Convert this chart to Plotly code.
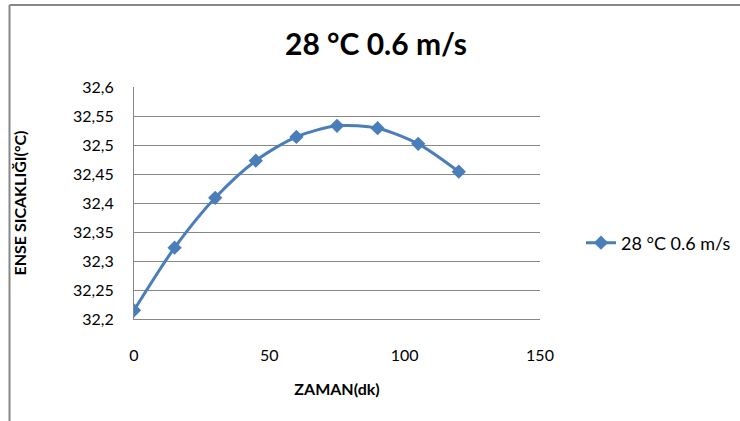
import plotly.graph_objects as go

# Data
zaman = [0, 15, 30, 45, 60, 75, 90, 105, 120]
sicaklik = [32.215, 32.323, 32.409, 32.473, 32.514, 32.533, 32.529, 32.502, 32.454]
series_name = "28 °C 0.6 m/s"
chart_title = "28 °C 0.6 m/s"
x_title = "ZAMAN(dk)"
y_title = "ENSE SICAKLIĞI(°C)"
x_ticks = [0, 50, 100, 150]
y_ticks = [32.2, 32.25, 32.3, 32.35, 32.4, 32.45, 32.5, 32.55, 32.6]
y_grid = [32.25, 32.3, 32.35, 32.4, 32.45, 32.5, 32.55]

W, H = 740, 421
L, R, T, B = 134, 200, 87, 102
pw, ph = W - L - R, H - T - B

blue = "#4A7EBB"
gray = "#878787"
font = "Lato, 'Open Sans', sans-serif"

fig = go.Figure()
fig.add_trace(go.Scatter(
    x=zaman, y=sicaklik, name=series_name, mode="lines+markers",
    line=dict(color=blue, width=3, shape="spline", smoothing=0.8),
    marker=dict(symbol="diamond", size=11, color=blue),
    showlegend=True,
))

def px_x(p):
    return (p - L) / pw

def px_y(p):
    return 1 - (p - T) / ph

fig.update_layout(
    width=W, height=H,
    margin=dict(l=L, r=R, t=T, b=B),
    paper_bgcolor="white", plot_bgcolor="white",
    separators=",.",
    font=dict(family=font, size=16, color="#000000"),
    title=dict(text="<b>" + chart_title + "</b>", x=376 / W, xref="container",
               y=1 - 44 / H, yref="container", yanchor="middle", xanchor="center",
               font=dict(size=30, family=font, color="#000000")),
    xaxis=dict(range=[0, 150], tickvals=x_ticks, showgrid=False, zeroline=False,
               showline=True, linecolor=gray, linewidth=1, ticks="",
               ticklabelstandoff=22, tickfont=dict(size=16),
               title=dict(text="<b>" + x_title + "</b>", font=dict(size=16), standoff=20)),
    yaxis=dict(range=[32.2, 32.6], tickvals=y_ticks, showgrid=False, zeroline=False,
               showline=True, linecolor=gray, linewidth=1, ticks="",
               ticklabelstandoff=16, tickfont=dict(size=16),
               title=dict(text="<b>" + y_title + "</b>", font=dict(size=16), standoff=42)),
    yaxis2=dict(range=[32.2, 32.6], overlaying="y", tickvals=y_grid, showgrid=True,
                gridcolor=gray, gridwidth=1, showticklabels=False, zeroline=False,
                showline=False, ticks="", side="left", layer="below traces"),
    legend=dict(x=581 / W, xref="container", y=1 - 243 / H, yref="container",
                xanchor="left", yanchor="middle", font=dict(size=18),
                bgcolor="rgba(0,0,0,0)", itemwidth=30),
    shapes=[
        dict(type="line", xref="paper", yref="paper",
             x0=px_x(9.5), x1=px_x(740), y0=px_y(5), y1=px_y(5),
             line=dict(color=gray, width=2)),
        dict(type="line", xref="paper", yref="paper",
             x0=px_x(9.5), x1=px_x(9.5), y0=px_y(5), y1=px_y(421),
             line=dict(color=gray, width=2)),
    ],
)
# invisible trace so the grid axis is drawn
fig.add_trace(go.Scatter(x=[None], y=[None], yaxis="y2", showlegend=False, hoverinfo="skip"))

fig.write_html("out.html")
